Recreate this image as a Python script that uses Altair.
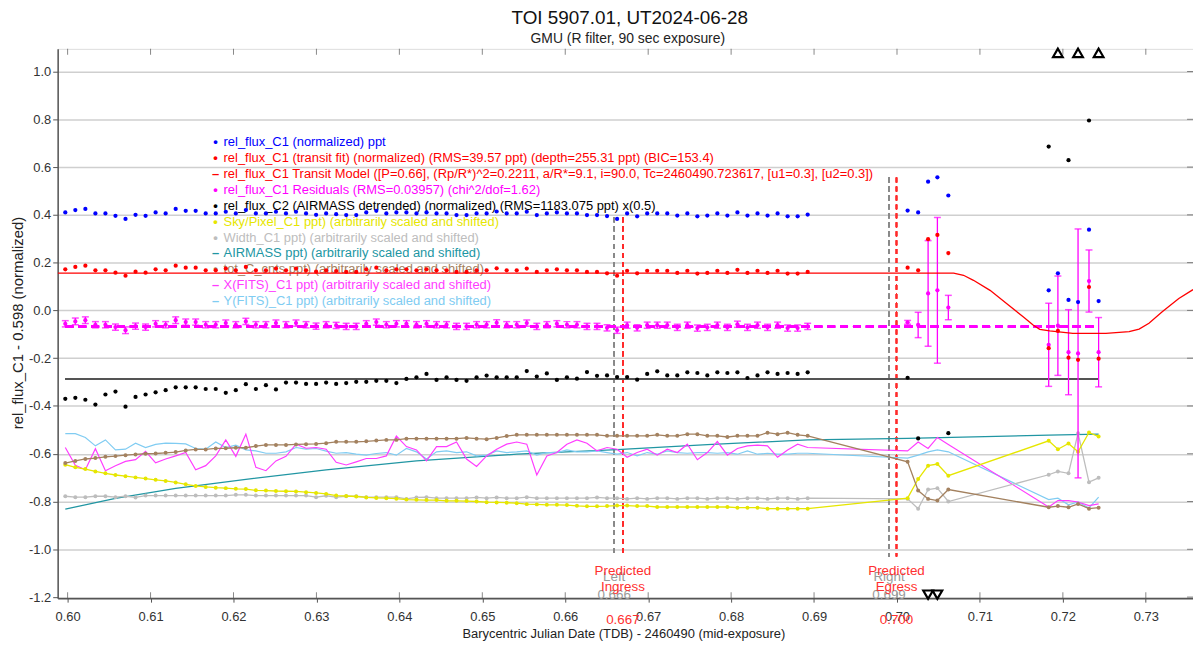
import altair as alt
import pandas as pd

# ---------------- text ----------------
TITLE = "TOI 5907.01, UT2024-06-28"
SUBTITLE = "GMU (R filter, 90 sec exposure)"
X_TITLE = "Barycentric Julian Date (TDB) - 2460490 (mid-exposure)"
Y_TITLE = "rel_flux_C1 - 0.598 (normalized)"

X_TICKS = [0.60, 0.61, 0.62, 0.63, 0.64, 0.65, 0.66, 0.67, 0.68, 0.69, 0.70, 0.71, 0.72, 0.73]
Y_TICKS = [-1.2, -1.0, -0.8, -0.6, -0.4, -0.2, 0.0, 0.2, 0.4, 0.6, 0.8, 1.0]
X_DOMAIN = [0.59880, 0.73569]
Y_DOMAIN = [-1.2046, 1.0948]

# ---------------- data ----------------
t_main = [0.59972, 0.60093, 0.60214, 0.60335, 0.60456, 0.60577, 0.60698, 0.60819, 0.60940, 0.61061,
          0.61182, 0.61303, 0.61424, 0.61544, 0.61665, 0.61786, 0.61907, 0.62028, 0.62149, 0.62270,
          0.62391, 0.62512, 0.62633, 0.62754, 0.62875, 0.62996, 0.63117, 0.63238, 0.63359, 0.63480,
          0.63601, 0.63722, 0.63843, 0.63964, 0.64085, 0.64206, 0.64327, 0.64448, 0.64569, 0.64689,
          0.64810, 0.64931, 0.65052, 0.65173, 0.65294, 0.65415, 0.65536, 0.65657, 0.65778, 0.65899,
          0.66020, 0.66141, 0.66262, 0.66383, 0.66504, 0.66625, 0.66746, 0.66867, 0.66988, 0.67109,
          0.67230, 0.67351, 0.67472, 0.67593, 0.67713, 0.67834, 0.67955, 0.68076, 0.68197, 0.68318,
          0.68439, 0.68560, 0.68681, 0.68802, 0.68923]
t_late = [0.70128, 0.70255, 0.70375, 0.70487, 0.70619, 0.71829, 0.71940, 0.72068, 0.72183, 0.72315, 0.72431]

blue_main = [0.410, 0.420, 0.425, 0.406, 0.406, 0.396, 0.383, 0.400, 0.396, 0.410,
             0.406, 0.425, 0.417, 0.417, 0.406, 0.406, 0.413, 0.406, 0.420, 0.406,
             0.406, 0.413, 0.406, 0.413, 0.406, 0.400, 0.406, 0.403, 0.399, 0.399,
             0.410, 0.417, 0.406, 0.410, 0.410, 0.406, 0.410, 0.406, 0.406, 0.399,
             0.399, 0.406, 0.406, 0.414, 0.406, 0.406, 0.413, 0.399, 0.406, 0.410,
             0.406, 0.406, 0.399, 0.399, 0.395, 0.383, 0.406, 0.394, 0.406, 0.406,
             0.406, 0.397, 0.406, 0.394, 0.397, 0.406, 0.397, 0.410, 0.397, 0.406,
             0.397, 0.406, 0.394, 0.394, 0.401]
blue_late = [0.418, 0.410, 0.539, 0.557, 0.481, 0.084, 0.155, 0.044, 0.035, 0.338, 0.039]

red_main = [0.172, 0.182, 0.187, 0.168, 0.168, 0.158, 0.145, 0.162, 0.158, 0.172,
            0.168, 0.187, 0.179, 0.179, 0.168, 0.168, 0.175, 0.168, 0.182, 0.168,
            0.168, 0.175, 0.168, 0.175, 0.168, 0.162, 0.168, 0.165, 0.161, 0.161,
            0.172, 0.179, 0.168, 0.172, 0.172, 0.168, 0.172, 0.168, 0.168, 0.161,
            0.161, 0.168, 0.168, 0.176, 0.168, 0.168, 0.175, 0.161, 0.168, 0.172,
            0.168, 0.168, 0.161, 0.161, 0.155, 0.145, 0.166, 0.155, 0.166, 0.166,
            0.166, 0.157, 0.166, 0.154, 0.157, 0.166, 0.157, 0.170, 0.157, 0.166,
            0.157, 0.166, 0.154, 0.154, 0.161]
red_late = [0.179, 0.168, 0.298, 0.316, 0.240, -0.158, -0.086, -0.198, -0.207, 0.098, -0.202]

res_main = [-0.056, -0.046, -0.041, -0.060, -0.060, -0.070, -0.083, -0.066, -0.070, -0.056,
            -0.060, -0.041, -0.049, -0.049, -0.060, -0.060, -0.053, -0.060, -0.046, -0.060,
            -0.060, -0.053, -0.060, -0.053, -0.060, -0.066, -0.060, -0.063, -0.067, -0.067,
            -0.056, -0.049, -0.060, -0.056, -0.056, -0.060, -0.056, -0.060, -0.060, -0.067,
            -0.067, -0.060, -0.060, -0.052, -0.060, -0.060, -0.053, -0.067, -0.060, -0.056,
            -0.060, -0.060, -0.067, -0.067, -0.073, -0.083, -0.062, -0.073, -0.062, -0.062,
            -0.062, -0.071, -0.062, -0.074, -0.071, -0.062, -0.071, -0.058, -0.071, -0.062,
            -0.071, -0.062, -0.074, -0.074, -0.067]
res_late = [-0.050, -0.061, 0.071, 0.084, 0.012, -0.144, -0.064, -0.175, -0.180, 0.123, -0.175]

err_main = [0.013, 0.014, 0.014, 0.013, 0.013, 0.013, 0.014, 0.013, 0.013, 0.013,
            0.013, 0.014, 0.013, 0.013, 0.013, 0.013, 0.013, 0.013, 0.013, 0.013,
            0.013, 0.013, 0.013, 0.013, 0.013, 0.013, 0.013, 0.013, 0.013, 0.013,
            0.013, 0.013, 0.013, 0.013, 0.013, 0.013, 0.013, 0.013, 0.013, 0.013,
            0.013, 0.013, 0.013, 0.013, 0.013, 0.013, 0.013, 0.013, 0.013, 0.013,
            0.013, 0.013, 0.013, 0.013, 0.013, 0.013, 0.013, 0.013, 0.013, 0.013,
            0.013, 0.013, 0.013, 0.013, 0.013, 0.013, 0.013, 0.013, 0.013, 0.013,
            0.013, 0.013, 0.013, 0.013, 0.013]
err_late = [0.008, 0.053, 0.221, 0.305, 0.051, 0.174, 0.208, 0.178, 0.521, 0.130, 0.145]

black_main = [-0.370, -0.366, -0.374, -0.394, -0.352, -0.340, -0.403, -0.362, -0.352, -0.343,
              -0.334, -0.322, -0.322, -0.322, -0.329, -0.329, -0.345, -0.334, -0.309, -0.329,
              -0.313, -0.331, -0.302, -0.302, -0.308, -0.308, -0.302, -0.308, -0.304, -0.299,
              -0.299, -0.295, -0.295, -0.304, -0.287, -0.280, -0.266, -0.291, -0.280, -0.291,
              -0.295, -0.280, -0.273, -0.280, -0.280, -0.280, -0.254, -0.277, -0.264, -0.291,
              -0.280, -0.286, -0.258, -0.274, -0.272, -0.279, -0.279, -0.290, -0.266, -0.255,
              -0.272, -0.272, -0.259, -0.262, -0.272, -0.259, -0.262, -0.259, -0.283, -0.272,
              -0.259, -0.266, -0.262, -0.266, -0.259]
black_late = [-0.282, -0.536, -1.450, -1.400, -0.514, 0.686, 1.300, 0.629, 1.250, 0.795, 1.350]

sky_main = [-0.646, -0.657, -0.664, -0.674, -0.682, -0.689, -0.694, -0.699, -0.704, -0.709,
            -0.714, -0.720, -0.728, -0.735, -0.739, -0.742, -0.744, -0.747, -0.748, -0.753,
            -0.754, -0.756, -0.757, -0.758, -0.761, -0.764, -0.768, -0.775, -0.777, -0.779,
            -0.783, -0.785, -0.786, -0.788, -0.792, -0.793, -0.794, -0.794, -0.797, -0.797,
            -0.798, -0.800, -0.803, -0.804, -0.805, -0.807, -0.811, -0.812, -0.814, -0.814,
            -0.815, -0.818, -0.820, -0.820, -0.819, -0.817, -0.817, -0.819, -0.819, -0.823,
            -0.823, -0.823, -0.823, -0.823, -0.823, -0.823, -0.823, -0.826, -0.826, -0.826,
            -0.830, -0.830, -0.830, -0.830, -0.830]
sky_late = [-0.786, -0.706, -0.650, -0.643, -0.692, -0.546, -0.581, -0.557, -0.592, -0.511, -0.528]

width_main = [-0.778, -0.782, -0.782, -0.778, -0.778, -0.782, -0.778, -0.783, -0.775, -0.775,
              -0.775, -0.775, -0.775, -0.775, -0.775, -0.775, -0.775, -0.772, -0.772, -0.775,
              -0.775, -0.775, -0.775, -0.775, -0.775, -0.782, -0.776, -0.782, -0.778, -0.778,
              -0.782, -0.782, -0.782, -0.782, -0.789, -0.783, -0.782, -0.786, -0.786, -0.786,
              -0.786, -0.783, -0.786, -0.783, -0.786, -0.786, -0.782, -0.786, -0.786, -0.786,
              -0.786, -0.786, -0.786, -0.783, -0.786, -0.786, -0.789, -0.786, -0.789, -0.786,
              -0.786, -0.789, -0.786, -0.786, -0.789, -0.786, -0.786, -0.789, -0.786, -0.786,
              -0.789, -0.786, -0.786, -0.789, -0.786]
width_late = [-0.789, -0.830, -0.750, -0.744, -0.800, -0.688, -0.674, -0.682, -0.514, -0.719, -0.701]

tot_main = [-0.639, -0.630, -0.622, -0.618, -0.613, -0.610, -0.606, -0.603, -0.600, -0.599,
            -0.596, -0.593, -0.586, -0.582, -0.582, -0.578, -0.577, -0.575, -0.575, -0.568,
            -0.563, -0.563, -0.563, -0.561, -0.560, -0.559, -0.556, -0.550, -0.550, -0.550,
            -0.548, -0.545, -0.542, -0.542, -0.537, -0.537, -0.537, -0.537, -0.537, -0.537,
            -0.534, -0.537, -0.539, -0.534, -0.526, -0.521, -0.521, -0.521, -0.521, -0.521,
            -0.521, -0.521, -0.521, -0.521, -0.525, -0.525, -0.525, -0.525, -0.525, -0.521,
            -0.525, -0.525, -0.518, -0.518, -0.525, -0.525, -0.530, -0.525, -0.525, -0.525,
            -0.512, -0.518, -0.512, -0.521, -0.525]
tot_late = [-0.634, -0.754, -0.789, -0.796, -0.750, -0.824, -0.819, -0.824, -0.810, -0.830, -0.826]

xfits_main = [-0.574, -0.648, -0.667, -0.579, -0.671, -0.650, -0.632, -0.625, -0.590, -0.638,
              -0.622, -0.609, -0.595, -0.667, -0.650, -0.609, -0.542, -0.611, -0.518, -0.657,
              -0.671, -0.630, -0.611, -0.560, -0.577, -0.574, -0.581, -0.636, -0.647, -0.634,
              -0.620, -0.620, -0.609, -0.526, -0.570, -0.584, -0.630, -0.570, -0.570, -0.551,
              -0.622, -0.653, -0.609, -0.581, -0.560, -0.551, -0.560, -0.689, -0.609, -0.595,
              -0.560, -0.542, -0.556, -0.588, -0.574, -0.581, -0.615, -0.595, -0.581, -0.606,
              -0.581, -0.595, -0.560, -0.625, -0.595, -0.549, -0.606, -0.578, -0.567, -0.564,
              -0.567, -0.615, -0.584, -0.560, -0.574]
xfits_late = [-0.588, -0.551, -0.578, -0.532, -0.561, -0.823, -0.796, -0.796, -0.802, -0.817, -0.810]

yfits_main = [-0.516, -0.516, -0.532, -0.567, -0.542, -0.584, -0.581, -0.556, -0.574, -0.561,
              -0.556, -0.557, -0.559, -0.578, -0.581, -0.551, -0.574, -0.564, -0.584, -0.588,
              -0.598, -0.598, -0.592, -0.574, -0.581, -0.578, -0.589, -0.598, -0.595, -0.602,
              -0.606, -0.599, -0.595, -0.606, -0.578, -0.592, -0.622, -0.592, -0.588, -0.595,
              -0.592, -0.609, -0.606, -0.588, -0.595, -0.592, -0.588, -0.606, -0.595, -0.595,
              -0.584, -0.592, -0.592, -0.588, -0.595, -0.602, -0.595, -0.609, -0.595, -0.602,
              -0.588, -0.595, -0.598, -0.595, -0.595, -0.598, -0.595, -0.602, -0.588, -0.602,
              -0.598, -0.602, -0.602, -0.598, -0.598]
yfits_late = [-0.618, -0.606, -0.592, -0.584, -0.592, -0.792, -0.786, -0.814, -0.802, -0.827, -0.782]

airmass_t = [0.59972, 0.60577, 0.61303, 0.62149, 0.63117, 0.64206, 0.65415, 0.66625, 0.67713,
             0.68923, 0.70128, 0.71829, 0.72431]
airmass_v = [-0.832, -0.787, -0.745, -0.707, -0.668, -0.630, -0.602, -0.583, -0.562,
             -0.542, -0.536, -0.522, -0.518]

model_t = [0.59880, 0.70683, 0.70802, 0.70922, 0.71122, 0.71321, 0.71521, 0.71641, 0.71721,
           0.71841, 0.72120, 0.72519, 0.72799, 0.72919, 0.73038, 0.73198, 0.73398, 0.73569]
model_v = [0.156, 0.156, 0.147, 0.126, 0.084, 0.029, -0.027, -0.061, -0.079,
           -0.086, -0.096, -0.096, -0.089, -0.078, -0.054, -0.006, 0.050, 0.087]

RES_LEVEL = -0.068
C2_LEVEL = -0.287

left_t, ingress_t = 0.66590, 0.66695
right_t, egress_t = 0.69904, 0.69994

legend_labels = [
    "rel_flux_C1 (normalized) ppt",
    "rel_flux_C1 (transit fit) (normalized) (RMS=39.57 ppt) (depth=255.31 ppt) (BIC=153.4)",
    "rel_flux_C1 Transit Model ([P=0.66], (Rp/R*)^2=0.2211, a/R*=9.1, i=90.0, Tc=2460490.723617, [u1=0.3], [u2=0.3])",
    "rel_flux_C1 Residuals (RMS=0.03957) (chi^2/dof=1.62)",
    "rel_flux_C2 (AIRMASS detrended) (normalized) (RMS=1183.075 ppt) x(0.5)",
    "Sky/Pixel_C1 ppt) (arbitrarily scaled and shifted)",
    "Width_C1 ppt) (arbitrarily scaled and shifted)",
    "AIRMASS ppt) (arbitrarily scaled and shifted)",
    "tot_C_cnts ppt) (arbitrarily scaled and shifted)",
    "X(FITS)_C1 ppt) (arbitrarily scaled and shifted)",
    "Y(FITS)_C1 ppt) (arbitrarily scaled and shifted)",
]
legend_symbols = ["\u2022", "\u2022", "\u2013", "\u2022", "\u2022", "\u2022", "\u2022", "\u2013", "\u2022", "\u2013", "\u2013"]

# ---------------- styles ----------------
C_BLUE = "#0000FF"
C_RED = "#FF0000"
C_MAG = "#FF00FF"
C_BLACK = "#000000"
C_SKY = "#E6E600"
C_WIDTH = "#BDBDBD"
C_AIR = "#2196A3"
C_TOT = "#A3815F"
C_XF = "#FF3CFF"
C_YF = "#80CCF2"
C_GREY_LBL = "#9A9A9A"
C_RED_LBL = "#FF3030"
legend_colors = [C_BLUE, C_RED, C_RED, C_MAG, C_BLACK, C_SKY, C_WIDTH, C_AIR, C_TOT, C_XF, C_YF]

W, H = 1143, 553

# ---------------- tables ----------------
df = pd.DataFrame({
    "t": t_main + t_late,
    "blue": blue_main + blue_late,
    "red": red_main + red_late,
    "res": res_main + res_late,
    "err": err_main + err_late,
    "black": black_main + black_late,
    "sky": sky_main + sky_late,
    "width": width_main + width_late,
    "tot": tot_main + tot_late,
    "xfits": xfits_main + xfits_late,
    "yfits": yfits_main + yfits_late,
})
df["lo"] = df["res"] - df["err"]
df["hi"] = df["res"] + df["err"]
T0, T1 = min(df["t"]), max(df["t"])
air_df = pd.DataFrame({"t": airmass_t, "v": airmass_v})
model_df = pd.DataFrame({"t": model_t, "v": model_v})
xt_df = pd.DataFrame({"t": X_TICKS})
yt_df = pd.DataFrame({"v": Y_TICKS})

xs = alt.Scale(domain=X_DOMAIN, nice=False, zero=False)
ys = alt.Scale(domain=Y_DOMAIN, nice=False, zero=False)
xaxis = alt.Axis(values=X_TICKS, format=".2f", title=None, grid=False, labelFontSize=13,
                 labelColor="#333333", tickSize=4, tickColor="#555555", labelPadding=8,
                 domainColor="#555555", domainWidth=1.5, labelFlush=False)
yaxis = alt.Axis(values=Y_TICKS, format=".1f", labelExpr="replace(datum.label, '\u2212', '-')",
                 title=None, grid=True, gridColor="#CFCFCF", gridWidth=1.5, labelFontSize=13,
                 labelColor="#333333", tickSize=5, tickColor="#555555", labelPadding=2,
                 domainColor="#555555", domainWidth=1.5, labelFlush=False)


def X(f):
    return alt.X(f, type="quantitative", scale=xs, axis=xaxis)


def Y(f):
    return alt.Y(f, type="quantitative", scale=ys, axis=yaxis)


base = alt.Chart(df)
layers = []

# legend (drawn under data)
for r in range(len(legend_labels)):
    ldf = pd.DataFrame({"s": [legend_labels[r]], "m": [legend_symbols[r]]})
    layers.append(alt.Chart(ldf).mark_text(align="left", baseline="middle", fontSize=13,
                                           color=legend_colors[r]).encode(
        x=alt.value(167), y=alt.value(94 + 16 * r), text="s:N"))
    layers.append(alt.Chart(ldf).mark_text(align="center", baseline="middle", fontSize=13,
                                           fontWeight="bold", color=legend_colors[r]).encode(
        x=alt.value(159), y=alt.value(94 + 16 * r), text="m:N"))

# predicted ingress / egress dashed lines
for tt, col, top in [(left_t, "#8A8A8A", 0.39), (ingress_t, "#FF2A2A", 0.39),
                     (right_t, "#8A8A8A", 0.556), (egress_t, "#FF2A2A", 0.556)]:
    layers.append(alt.Chart(xt_df).mark_rule(color=col, strokeDash=[5, 4], strokeWidth=1.2).encode(
        x=alt.datum(tt), y=alt.datum(top), y2=alt.datum(-1.03)))

# arbitrarily scaled series
layers.append(alt.Chart(air_df).mark_line(color=C_AIR, strokeWidth=1.3, clip=True).encode(x=X("t"), y=Y("v")))
layers.append(base.mark_line(color=C_YF, strokeWidth=1.2, clip=True).encode(x=X("t"), y=Y("yfits")))
layers.append(base.mark_line(color=C_XF, strokeWidth=1.2, clip=True).encode(x=X("t"), y=Y("xfits")))
for f, c in [("width", C_WIDTH), ("sky", C_SKY), ("tot", C_TOT)]:
    layers.append(base.mark_line(color=c, strokeWidth=1.3, clip=True).encode(x=X("t"), y=Y(f)))
    layers.append(base.mark_circle(color=c, size=16, opacity=1, clip=True).encode(x=X("t"), y=Y(f)))

# C2 detrended
layers.append(alt.Chart(xt_df).mark_rule(color="#555555", strokeWidth=1.5).encode(
    x=alt.datum(T0), x2=alt.datum(T1), y=alt.datum(C2_LEVEL)))
layers.append(base.transform_filter(f"datum.black <= {Y_DOMAIN[1]} && datum.black >= {Y_DOMAIN[0]}")
              .mark_circle(color=C_BLACK, size=18, opacity=1).encode(x=X("t"), y=Y("black")))
layers.append(base.transform_filter(f"datum.black > {Y_DOMAIN[1]}")
              .mark_point(shape="triangle-up", filled=False, color=C_BLACK, opacity=1, strokeWidth=2.2, size=95)
              .encode(x=X("t"), y=alt.value(4)))
layers.append(base.transform_filter(f"datum.black < {Y_DOMAIN[0]}")
              .mark_point(shape="triangle-down", filled=False, color=C_BLACK, opacity=1, strokeWidth=2.2, size=95)
              .encode(x=X("t"), y=alt.value(H - 3.5)))

# residuals
layers.append(alt.Chart(xt_df).mark_rule(color=C_MAG, strokeWidth=2.2, strokeDash=[8, 5]).encode(
    x=alt.datum(T0), x2=alt.datum(T1), y=alt.datum(RES_LEVEL)))
layers.append(base.mark_rule(color=C_MAG, strokeWidth=1.3).encode(x=X("t"), y=Y("lo"), y2=alt.Y2("hi")))
layers.append(base.mark_tick(color=C_MAG, orient="horizontal", size=7, thickness=1.5).encode(x=X("t"), y=Y("lo")))
layers.append(base.mark_tick(color=C_MAG, orient="horizontal", size=7, thickness=1.5).encode(x=X("t"), y=Y("hi")))
layers.append(base.mark_circle(color=C_MAG, size=18, opacity=1).encode(x=X("t"), y=Y("res")))

# transit model + fit points + normalized
layers.append(alt.Chart(model_df).mark_line(color=C_RED, strokeWidth=1.3, clip=True).encode(x=X("t"), y=Y("v")))
layers.append(base.mark_circle(color=C_RED, size=18, opacity=1).encode(x=X("t"), y=Y("red")))
layers.append(base.mark_circle(color=C_BLUE, size=18, opacity=1).encode(x=X("t"), y=Y("blue")))

# frame ticks (inside)
layers.append(alt.Chart(xt_df).mark_tick(orient="vertical", size=6, thickness=1, color="#555555").encode(
    x=X("t"), y=alt.value(3)))
layers.append(alt.Chart(xt_df).mark_tick(orient="vertical", size=6, thickness=1, color="#555555").encode(
    x=X("t"), y=alt.value(H - 3)))
layers.append(alt.Chart(yt_df).mark_tick(orient="horizontal", size=6, thickness=1, color="#555555").encode(
    y=Y("v"), x=alt.value(W - 3)))

# ingress / egress labels
lab_rows = [
    ([left_t, right_t], ["Left", "Right"], C_GREY_LBL, 532),
    ([left_t, right_t], ["0.666", "0.699"], C_GREY_LBL, 550),
    ([ingress_t, egress_t], ["Predicted", "Predicted"], C_RED_LBL, 525.5),
    ([ingress_t, egress_t], ["Ingress", "Egress"], C_RED_LBL, 541.5),
    ([ingress_t, egress_t], ["0.667", "0.700"], C_RED_LBL, 575.5),
]
for ts, txts, col, py in lab_rows:
    ldf = pd.DataFrame({"t": ts, "s": txts})
    layers.append(alt.Chart(ldf).mark_text(align="center", baseline="middle", fontSize=13.5, color=col).encode(
        x=X("t"), y=alt.value(py), text="s:N"))

# titles
tdf = pd.DataFrame({"a": [TITLE], "b": [SUBTITLE], "x": [X_TITLE], "y": [Y_TITLE]})
layers.append(alt.Chart(tdf).mark_text(align="center", baseline="alphabetic", fontSize=19, color="#111111").encode(
    x=alt.value(576), y=alt.value(-25), text="a:N"))
layers.append(alt.Chart(tdf).mark_text(align="center", baseline="alphabetic", fontSize=14, color="#222222").encode(
    x=alt.value(574), y=alt.value(-5.5), text="b:N"))
layers.append(alt.Chart(tdf).mark_text(align="center", baseline="alphabetic", fontSize=13, color="#222222").encode(
    x=alt.value(570), y=alt.value(593), text="x:N"))
layers.append(alt.Chart(tdf).mark_text(align="center", baseline="middle", fontSize=15, angle=270, color="#222222").encode(
    x=alt.value(-40), y=alt.value(276), text="y:N"))

chart = alt.layer(*layers).properties(
    width=W, height=H,
    autosize=alt.AutoSizeParams(type="none"),
    padding={"left": 50, "top": 39, "right": 0, "bottom": 44},
    background="white",
).configure_view(stroke="#8A8A8A", strokeWidth=1).configure(font="Liberation Sans")

chart.save("out.html", embed_options={"renderer": "svg", "actions": False})
